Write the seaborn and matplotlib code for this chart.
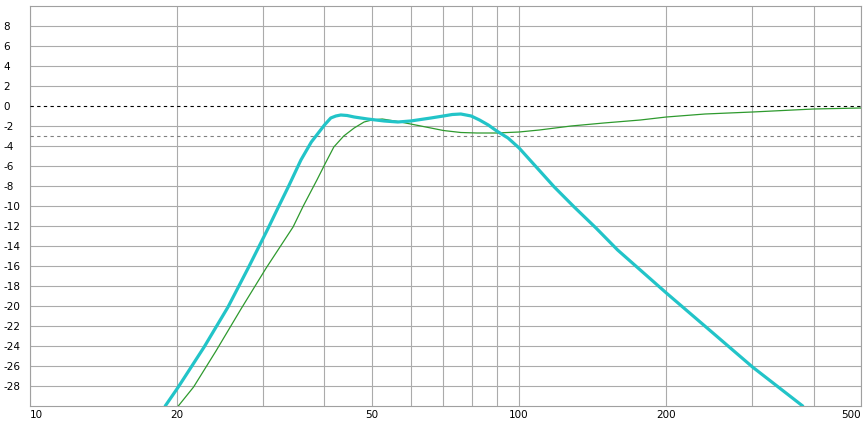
import matplotlib
matplotlib.use("Agg")
import matplotlib.pyplot as plt
from matplotlib.ticker import NullFormatter
import seaborn as sns

# values (Hz, dB)
cyan_freq = [18.9, 20.1, 22.7, 25.4, 28.0, 30.7, 32.2, 33.8, 35.8, 37.6, 40.0, 41.2, 42.2,
             43.2, 44.5, 46.0, 49.0, 53.0, 56.5, 60.0, 66.0, 70.0, 73.0, 76.0, 79.8, 83.0,
             86.5, 90.0, 94.9, 100.0, 108.4, 118.0, 129.6, 143.6, 159.0, 200.0,
             241.0, 300.0, 380.0]
cyan_db = [-30.0, -28.1, -24.1, -20.1, -16.1, -12.2, -10.1, -8.0, -5.4, -3.6, -1.9, -1.2, -1.0,
           -0.9, -0.95, -1.1, -1.3, -1.5, -1.6, -1.5, -1.2, -1.0, -0.85, -0.8, -1.0, -1.4,
           -1.9, -2.5, -3.2, -4.2, -6.1, -8.1, -10.1, -12.2, -14.4, -18.7,
           -22.1, -26.1, -30.0]

green_freq = [20.1, 21.6, 24.0, 27.0, 30.4, 34.5, 36.2, 38.6, 40.0, 41.8, 43.8, 46.0, 48.2,
              50.0, 52.5, 56.5, 60.0, 66.0, 70.0, 76.0, 82.0, 90.0, 100.0, 110.0, 127.7,
              149.0, 177.0, 200.0, 240.0, 300.0, 400.0, 500.0]
green_db = [-30.0, -28.1, -24.5, -20.3, -16.2, -12.1, -10.0, -7.4, -5.9, -4.1, -3.0, -2.2, -1.6,
            -1.4, -1.3, -1.55, -1.8, -2.2, -2.45, -2.65, -2.7, -2.7, -2.6, -2.4, -2.0,
            -1.7, -1.4, -1.1, -0.8, -0.6, -0.3, -0.2]

x_major = [10, 20, 50, 100, 200, 500]
x_minor = [30, 40, 60, 70, 80, 90, 300, 400]
y_ticks = list(range(-28, 10, 2))

sns.set_theme(style="white")
plt.rcParams['font.family'] = ['DejaVu Sans']

fig = plt.figure(figsize=(8.68, 4.36), dpi=100)
ax = fig.add_axes([30 / 868, 30 / 436, 831 / 868, 400 / 436])

sns.lineplot(x=green_freq, y=green_db, ax=ax, color="#2e9a2e", lw=0.9, sort=False, zorder=4)
sns.lineplot(x=cyan_freq, y=cyan_db, ax=ax, color="#22c4c8", lw=2.3, sort=False, zorder=5)

ax.set_xscale('log')
ax.set_xlim(10, 500)
ax.set_ylim(-30, 10)
ax.set_xticks(x_major)
ax.set_xticklabels([str(v) for v in x_major])
ax.set_xticks(x_minor, minor=True)
ax.xaxis.set_minor_formatter(NullFormatter())
ax.set_yticks(y_ticks)
ax.set_yticklabels([str(v) for v in y_ticks])
ax.set_xlabel('')
ax.set_ylabel('')

grid_kw = dict(color='#ababab', lw=0.8)
ax.grid(True, which='both', axis='x', **grid_kw)
ax.grid(True, which='major', axis='y', **grid_kw)
for t in ax.yaxis.get_major_ticks():
    if t.get_loc() == 0:
        t.gridline.set_visible(False)

# reference levels
ax.axhline(0, color='black', ls=(0, (3, 3)), lw=0.8, zorder=3)
ax.axhline(-3, color='#808080', ls=(0, (3, 3)), lw=0.8, zorder=3)

ax.tick_params(axis='both', which='both', length=0, labelsize=7.5, labelcolor='black')
ax.tick_params(axis='x', pad=3)
ax.tick_params(axis='y', pad=19)
for lbl in ax.get_yticklabels():
    lbl.set_horizontalalignment('left')
xl = ax.get_xticklabels()
xl[0].set_horizontalalignment('left')
xl[-1].set_horizontalalignment('right')

for s in ax.spines.values():
    s.set_color('#a0a0a0')
    s.set_linewidth(0.8)

fig.savefig('out.png', dpi=100)
